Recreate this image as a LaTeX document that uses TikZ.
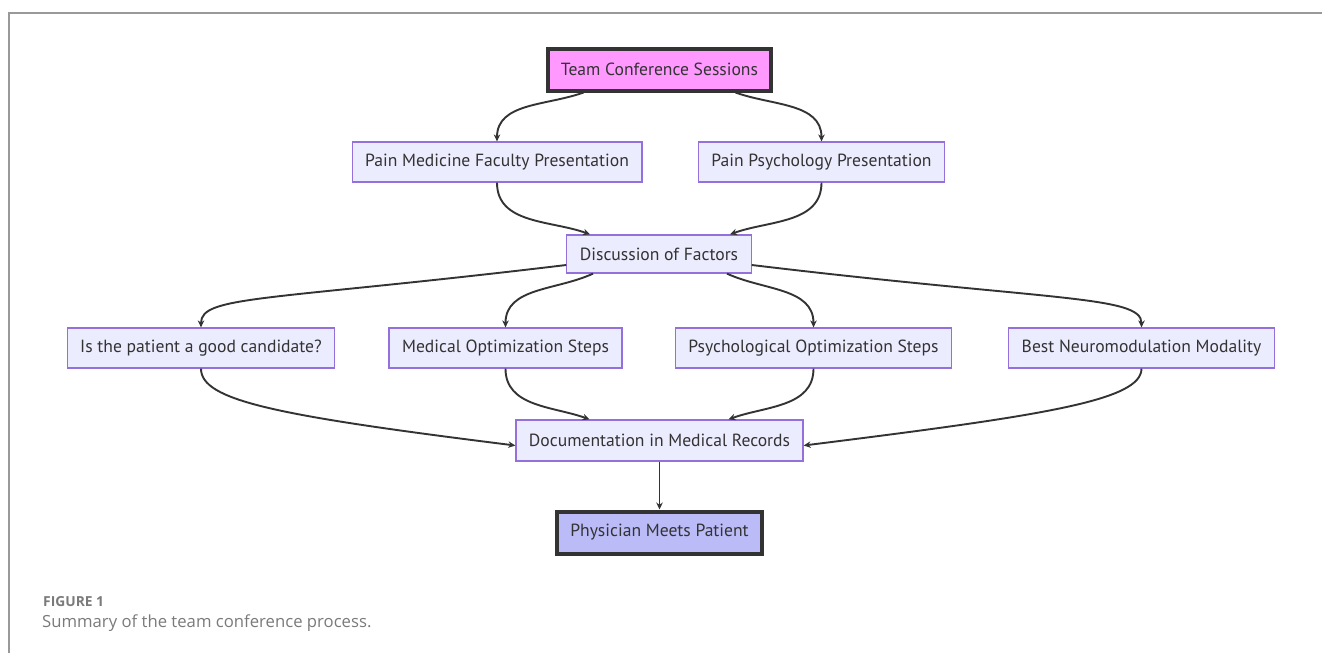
\documentclass[tikz,border=0pt]{standalone}
\usepackage{fontspec}
\setmainfont{PT Sans}
\newfontfamily\capfont{Open Sans}
\usetikzlibrary{arrows.meta}

\definecolor{boxfill}{HTML}{ECECFF}
\definecolor{boxline}{HTML}{9370DB}
\definecolor{inkgray}{HTML}{333333}
\definecolor{startfill}{HTML}{FF99FF}
\definecolor{endfill}{HTML}{BBBBF8}
\definecolor{capgray}{HTML}{7A7A7A}

\begin{document}
\begin{tikzpicture}
  [x=1pt,y=1pt,
   box/.style={draw=boxline,fill=boxfill,line width=1.2pt,minimum height=40pt,
     inner xsep=13pt,text=inkgray,font=\fontsize{17.6}{20}\selectfont},
   keybox/.style={box,draw=inkgray,line width=4pt,minimum height=42pt},
   flow/.style={draw=inkgray,line width=1.9pt,-{Stealth[length=7pt,width=6.5pt]}}]
  \useasboundingbox (0,0) rectangle (1322,-653);
  % frame of the figure
  \draw[gray!80,line width=1.6pt] (9,-653) -- (9,-13) -- (1322,-13);

  \node[keybox,fill=startfill] (team) at (659.5,-69.5) {Team Conference Sessions};
  \node[box] (painmed) at (497,-162) {Pain Medicine Faculty Presentation};
  \node[box] (painpsy) at (821.5,-162) {Pain Psychology Presentation};
  \node[box,minimum height=38pt] (disc) at (659,-254) {Discussion of Factors};
  \node[box] (cand) at (201,-348) {Is the patient a good candidate?};
  \node[box] (medopt) at (505.5,-348) {Medical Optimization Steps};
  \node[box] (psyopt) at (813.5,-348) {Psychological Optimization Steps};
  \node[box] (modal) at (1141.5,-348) {Best Neuromodulation Modality};
  \node[box,minimum height=41pt] (docu) at (659.5,-440.5) {Documentation in Medical Records};
  \node[keybox,fill=endfill] (meet) at (659.5,-532.5) {Physician Meets Patient};

  \draw[flow] ([xshift=-76]team.south) to[out=200,in=90] (painmed.north);
  \draw[flow] ([xshift=76]team.south) to[out=-20,in=90] (painpsy.north);
  \draw[flow] (painmed.south) to[out=270,in=160] ([xshift=-69]disc.north);
  \draw[flow] (painpsy.south) to[out=270,in=20] ([xshift=71]disc.north);

  \draw[flow] ([yshift=-11]disc.west) .. controls +(-300,-36) and +(0,32) .. (cand.north);
  \draw[flow] ([xshift=-66]disc.south) to[out=205,in=90] (medopt.north);
  \draw[flow] ([xshift=68]disc.south) to[out=-25,in=90] (psyopt.north);
  \draw[flow] ([yshift=-11]disc.east) .. controls +(300,-36) and +(0,32) .. (modal.north);

  \draw[flow] (cand.south) .. controls +(0,-32) and +(-240,30) .. ([yshift=-5]docu.west);
  \draw[flow] (medopt.south) to[out=270,in=160] ([xshift=-70]docu.north);
  \draw[flow] (psyopt.south) to[out=270,in=20] ([xshift=69]docu.north);
  \draw[flow] (modal.south) .. controls +(0,-32) and +(240,30) .. ([yshift=-5]docu.east);
  \draw[flow] (docu) -- (meet);

  % caption
  \node[anchor=base west,inner sep=0pt,text=capgray,font=\capfont\bfseries\fontsize{13.8}{16}\selectfont]
    (figno) at (43,-606) {FIGURE 1};
  \node[anchor=base west,inner sep=0pt,text=capgray,font=\capfont\fontsize{16.7}{19}\selectfont]
    (captext) at (42,-627) {Summary of the team conference process.};
\end{tikzpicture}
\end{document}
